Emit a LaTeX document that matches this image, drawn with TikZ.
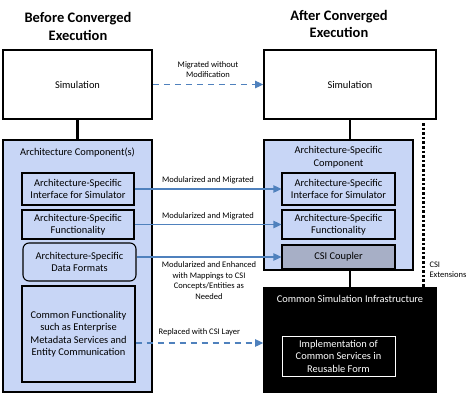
\documentclass[tikz,border=0pt]{standalone}
\usepackage{fontspec}
\setmainfont{Carlito}
\usepackage{tikz}
\usetikzlibrary{arrows.meta,positioning,calc}
\definecolor{archblue}{HTML}{C8D6F6}
\definecolor{coupler}{HTML}{A7AFC6}
\definecolor{flow}{HTML}{4F81BD}

\begin{document}
\begin{tikzpicture}[
  x=1pt,y=-1pt,
  title/.style={align=center,font=\fontsize{14.5}{17.5}\selectfont\bfseries},
  simbox/.style={draw,line width=1.6pt,fill=white,font=\fontsize{10.4}{12.5}\selectfont},
  archbox/.style={draw,line width=1.6pt,fill=archblue,font=\fontsize{10.4}{12.5}\selectfont},
  part/.style={draw,line width=1.1pt,fill=archblue,align=center,font=\fontsize{10.4}{12.5}\selectfont},
  csibox/.style={draw,line width=1.6pt,fill=black,text=white,font=\fontsize{10.4}{12.5}\selectfont},
  note/.style={align=center,font=\fontsize{8.5}{10.5}\selectfont},
  link/.style={line width=2.4pt},
  arr/.style={-{Triangle[length=2.8mm,width=2.6mm]},line width=1.1pt,draw=flow},
  dasharr/.style={arr,dash pattern=on 6pt off 5pt}
]
\useasboundingbox (0,0) rectangle (467,402);
% titles
\node[title] (tleft) at (78,26.5) {Before Converged\\Execution};
\node[title] (tright) at (339,24) {After Converged\\Execution};
% before
\node[simbox,minimum width=149pt,minimum height=69pt] (simL) at (77.5,84.5) {Simulation};
\node[archbox,minimum width=149pt,minimum height=252pt,
  label={[anchor=north,yshift=-5pt,font=\fontsize{10.4}{12.5}\selectfont]north:Architecture Component(s)}] (archL) at (77.5,266) {};
\node[part,minimum width=112pt,minimum height=32pt] (ifaceL) at (78,189) {Architecture-Specific\\Interface for Simulator};
\node[part,minimum width=112pt,minimum height=29pt] (funcL) at (78,224.5) {Architecture-Specific\\Functionality};
\node[part,rounded corners=6pt,minimum width=113pt,minimum height=38pt] (fmtL) at (79.5,262) {Architecture-Specific\\Data Formats};
\node[part,minimum width=113pt,minimum height=96pt] (commonL) at (78.5,334) {Common Functionality\\such as Enterprise\\Metadata Services and\\Entity Communication};
% after
\node[simbox,minimum width=172pt,minimum height=69pt] (simR) at (350,84.5) {Simulation};
\node[archbox,minimum width=149pt,minimum height=130pt,
  label={[anchor=north,yshift=-4pt,align=center,font=\fontsize{10.4}{12.5}\selectfont]north:Architecture-Specific\\Component}] (archR) at (338.5,205) {};
\node[part,minimum width=113pt,minimum height=32pt] (ifaceR) at (338.5,189) {Architecture-Specific\\Interface for Simulator};
\node[part,minimum width=113pt,minimum height=29pt] (funcR) at (338.5,224.5) {Architecture-Specific\\Functionality};
\node[part,fill=coupler,minimum width=113pt,minimum height=24pt] (cplr) at (338.5,257) {CSI Coupler};
\node[csibox,minimum width=172pt,minimum height=104pt,
  label={[anchor=north,yshift=-5pt,text=white,font=\fontsize{10.4}{12.5}\selectfont]north:Common Simulation Infrastructure}] (csi) at (350,340) {};
\node[part,draw=white,fill=black,text=white,line width=0.9pt,minimum width=113pt,minimum height=40pt] (impl) at (338.5,356) {Implementation of\\Common Services in\\Reusable Form};
\node[note,anchor=west,align=left] (ext) at (426,270) {CSI\\Extensions};
\coordinate (dtop) at (423,123);
\coordinate (dbot) at (423,288);
% links
\draw[link] (simL.south) -- (archL.north);
\draw[link] (simR.south) -- (simR.south |- archR.north);
\draw[link] (csi.north |- archR.south) -- (csi.north);
\draw[line width=3pt,dash pattern=on 2.6pt off 2pt] (dtop) -- (dbot);
% migrations
\draw[dasharr] (simL.east) -- node[note,above=3pt] {Migrated without\\Modification} (simR.west);
\draw[arr] (ifaceL.east) -- node[note,above=1pt] {Modularized and Migrated} (ifaceR.west);
\draw[arr] (funcL.east) -- node[note,above=1pt] {Modularized and Migrated} (funcR.west);
\draw[arr] (cplr.west -| fmtL.east) -- node[note,below=1pt] {Modularized and Enhanced\\with Mappings to CSI\\Concepts/Entities as\\Needed} (cplr.west);
\draw[dasharr] ([yshift=-9pt]commonL.east) -- node[note,above=3pt] {Replaced with CSI Layer} ([yshift=-9pt]commonL.east -| csi.west);
\end{tikzpicture}
\end{document}
